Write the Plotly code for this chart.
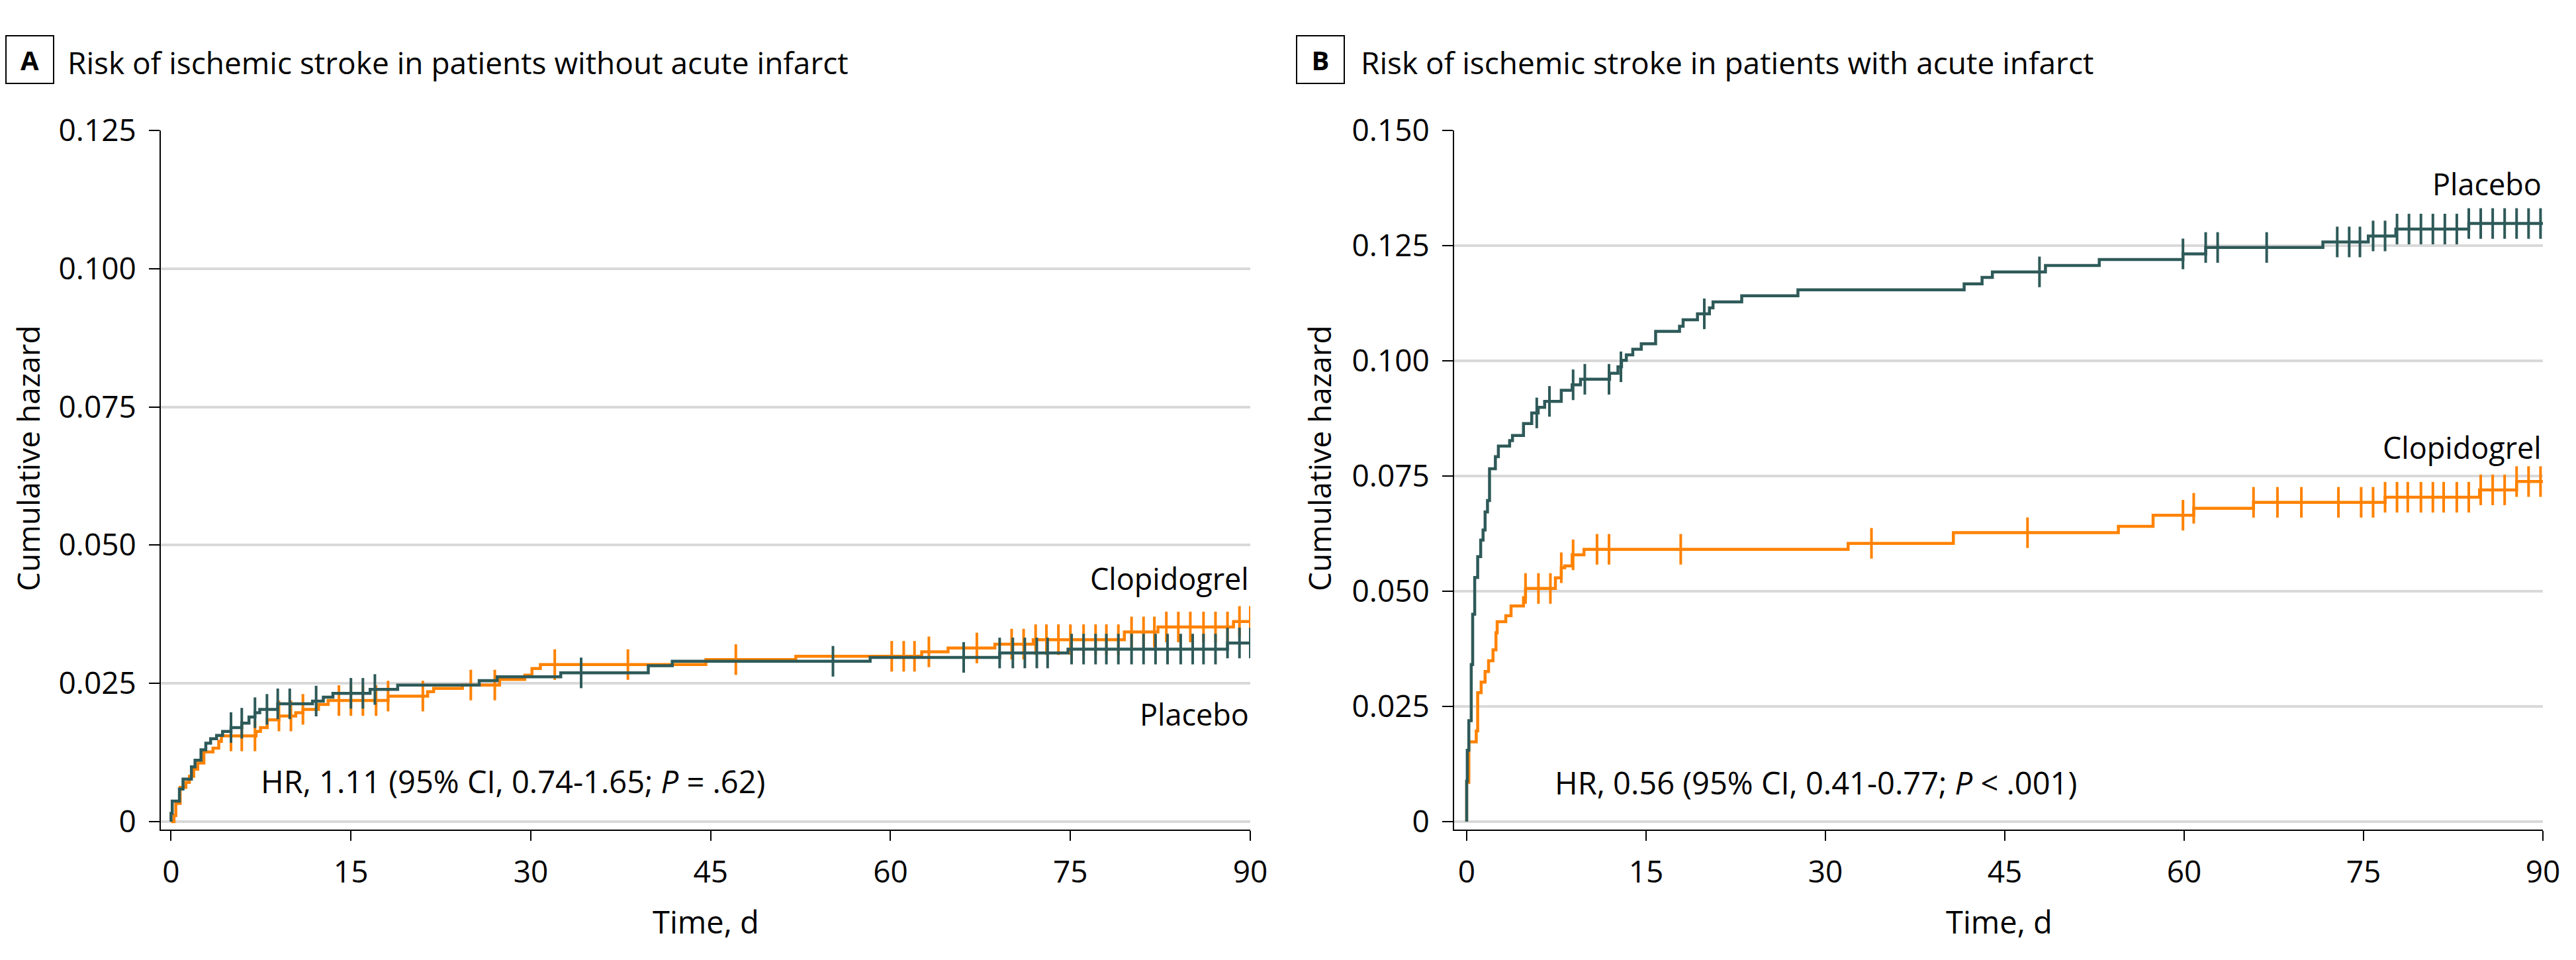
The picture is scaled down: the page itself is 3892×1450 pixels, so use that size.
import numpy as np
import plotly.graph_objects as go

W, H = 3892, 1450
OFF = 8  # page body margin offset

# ---------------- Data ----------------
# Panel A: patients without acute infarct (event times, cumulative hazard after event)
a_plac_t = [0, 0.1, 0.7, 1.0, 1.7, 2.0, 2.5, 2.9, 3.3, 3.8, 4.3, 5.0, 5.9, 6.5, 7.0, 7.4, 8.9,
            11.8, 12.7, 13.5, 16.6, 18.9, 25.7, 27.2, 32.5, 39.8, 41.8, 58.3, 69.1, 74.8, 88.1]
a_plac_h = [0.0015, 0.0037, 0.0059, 0.0077, 0.0099, 0.0111, 0.0130, 0.0142, 0.0150, 0.0156, 0.0163,
            0.0170, 0.0178, 0.0189, 0.0197, 0.0203, 0.0213, 0.0218, 0.0225, 0.0232, 0.0239, 0.0247,
            0.0255, 0.0262, 0.0269, 0.0282, 0.0290, 0.0297, 0.0305, 0.0312, 0.0323]
a_plac_cens = [5.0, 5.9, 7.0, 8.0, 8.9, 9.9, 12.1, 15.0, 16.0, 17.0, 34.2, 55.2, 66.1, 69.1, 70.2,
               71.2, 72.2, 73.1, 75.1, 76.1, 77.1, 78.0, 79.0, 80.1, 81.1, 82.1, 83.1, 84.2, 85.2,
               86.1, 87.1, 88.1, 89.1, 90.0]

a_clop_t = [0.25, 0.4, 0.76, 1.24, 1.53, 1.89, 2.23, 2.74, 3.5, 3.98, 4.2, 7.09, 7.46, 8.02, 9.0,
            10.4, 11.0, 12.3, 13.1, 18.1, 21.4, 21.9, 24.3, 27.4, 29.5, 30.1, 30.8, 44.6, 52.1,
            62.6, 64.8, 68.7, 71.9, 79.5, 82.3, 88.6]
a_clop_h = [0.0011, 0.0033, 0.0062, 0.0071, 0.0082, 0.0095, 0.0106, 0.0126, 0.0133, 0.0145, 0.0155,
            0.0163, 0.0170, 0.0184, 0.0191, 0.0197, 0.0203, 0.0212, 0.0219, 0.0227, 0.0235, 0.0241,
            0.0247, 0.0257, 0.0265, 0.0277, 0.0284, 0.0293, 0.0299, 0.0307, 0.0314, 0.0321, 0.0329,
            0.0343, 0.0352, 0.0362]
a_clop_cens = [5.0, 5.9, 7.0, 9.0, 10.0, 11.0, 14.0, 15.0, 16.0, 17.1, 18.1, 21.0, 25.0, 27.0, 32.0,
               38.1, 47.1, 60.1, 61.1, 62.0, 63.2, 67.2, 70.1, 71.1, 72.1, 73.0, 74.0, 75.0, 76.1,
               77.1, 78.0, 79.0, 80.1, 81.1, 82.0, 83.0, 84.0, 85.0, 86.1, 87.1, 88.1, 89.1, 90.0]

# Panel B: patients with acute infarct
b_plac_t = [0, 0.05, 0.18, 0.38, 0.5, 0.67, 0.92, 1.17, 1.37, 1.54, 1.74, 1.91, 2.4, 2.65, 3.59,
            3.83, 4.75, 5.44, 5.98, 6.52, 7.91, 8.82, 9.52, 11.95, 12.65, 12.95, 13.35, 13.89, 14.6,
            15.8, 17.8, 18.1, 19.3, 20.3, 20.6, 23.0, 27.7, 41.6, 43.1, 43.96, 48.4, 52.9, 59.9,
            61.8, 71.6, 75.4, 77.7, 83.8]
b_plac_h = [0.0088, 0.0155, 0.0219, 0.0341, 0.0450, 0.0530, 0.0575, 0.0611, 0.0633, 0.0672, 0.0697,
            0.0766, 0.0792, 0.0815, 0.0827, 0.0838, 0.0864, 0.0887, 0.0899, 0.0912, 0.0936, 0.0948,
            0.0960, 0.0973, 0.0987, 0.1001, 0.1013, 0.1025, 0.1037, 0.1064, 0.1075, 0.1089, 0.1102,
            0.1115, 0.1128, 0.1141, 0.1154, 0.1167, 0.1181, 0.1193, 0.1207, 0.1220, 0.1232, 0.1246,
            0.1258, 0.1271, 0.1286, 0.1298]
b_plac_cens = [5.86, 6.92, 8.9, 9.88, 11.9, 12.9, 19.87, 47.9, 59.9, 61.8, 62.8, 66.9, 72.8, 73.8,
               74.7, 75.8, 76.8, 77.8, 78.8, 79.8, 80.8, 81.8, 82.8, 83.8, 84.8, 85.8, 86.8, 87.8,
               88.8, 89.8]

b_clop_t = [0, 0.18, 0.8, 0.92, 1.21, 1.54, 1.83, 2.2, 2.45, 2.55, 3.27, 3.71, 4.75, 4.92, 7.42,
            7.91, 8.2, 8.82, 9.81, 31.9, 40.7, 54.5, 57.4, 60.8, 65.8, 76.8, 84.7, 87.8]
b_clop_h = [0.0085, 0.0173, 0.0197, 0.0280, 0.0303, 0.0326, 0.0349, 0.0373, 0.0410, 0.0434, 0.0447,
            0.0468, 0.0486, 0.0506, 0.0529, 0.0551, 0.0555, 0.0579, 0.0591, 0.0604, 0.0627, 0.0641,
            0.0665, 0.0680, 0.0693, 0.0704, 0.0720, 0.0738]
b_clop_cens = [4.92, 6.0, 7.0, 7.91, 8.9, 10.9, 11.9, 17.9, 33.85, 46.9, 59.9, 60.8, 65.8, 67.8,
               69.8, 72.9, 74.8, 75.8, 76.8, 77.8, 78.7, 79.8, 80.8, 81.7, 82.8, 83.8, 84.8, 85.8,
               86.8, 87.8, 88.8, 89.8]

x_ticks = [0, 15, 30, 45, 60, 75, 90]
y_ticks_a = [0, 0.025, 0.05, 0.075, 0.1, 0.125]
y_ticklabels_a = ["0", "0.025", "0.050", "0.075", "0.100", "0.125"]
y_ticks_b = [0, 0.025, 0.05, 0.075, 0.1, 0.125, 0.15]
y_ticklabels_b = ["0", "0.025", "0.050", "0.075", "0.100", "0.125", "0.150"]

TEAL = "#2E5A59"
ORANGE = "#FF8200"
FONT = "Open Sans"
X_END = 90


def step_xy(t, h):
    x = [0] + list(t) + [X_END]
    y = [0] + list(h) + [h[-1]]
    return x, y


def at(t, h, c):
    idx = np.searchsorted(np.array(t), np.array(c), side="right") - 1
    hh = np.array(h)
    return np.where(idx >= 0, hh[np.clip(idx, 0, None)], 0.0)


def px(x):
    return (x - OFF) / W


def py(y):
    return 1 - (y - OFF) / H


fig = go.Figure()

panels = [
    ("x", "y", [(a_clop_t, a_clop_h, a_clop_cens, ORANGE, "Clopidogrel"),
                (a_plac_t, a_plac_h, a_plac_cens, TEAL, "Placebo")]),
    ("x2", "y2", [(b_clop_t, b_clop_h, b_clop_cens, ORANGE, "Clopidogrel"),
                  (b_plac_t, b_plac_h, b_plac_cens, TEAL, "Placebo")]),
]
for xa, ya, series in panels:
    for t, h, cens, col, name in series:
        sx, sy = step_xy(t, h)
        fig.add_trace(go.Scatter(x=sx, y=sy, mode="lines", line=dict(color=col, width=4.5, shape="hv"),
                                 xaxis=xa, yaxis=ya, name=name, showlegend=False, hoverinfo="skip"))
        fig.add_trace(go.Scatter(x=cens, y=at(t, h, cens), mode="markers",
                                 marker=dict(symbol="line-ns", size=33, line=dict(color=col, width=4)),
                                 xaxis=xa, yaxis=ya, showlegend=False, hoverinfo="skip"))

tickfont = dict(family=FONT, size=46, color="black")
common_x = dict(range=[-0.85, 90], tickvals=x_ticks, showgrid=False, zeroline=False, showline=True,
                linecolor="black", linewidth=2, ticks="outside", ticklen=15, tickwidth=2,
                tickcolor="black", tickfont=tickfont, ticklabelstandoff=8, automargin=False)
common_y = dict(showgrid=True, gridcolor="#D9D9D9", gridwidth=4, zeroline=False, showline=True,
                linecolor="black", linewidth=2, ticks="outside", ticklen=16, tickwidth=2,
                tickcolor="black", tickfont=tickfont, ticklabelstandoff=10, automargin=False)

fig.update_layout(
    width=W, height=H, autosize=False,
    margin=dict(l=0, r=0, t=0, b=0, autoexpand=False),
    paper_bgcolor="white", plot_bgcolor="white",
    showlegend=False,
    font=dict(family=FONT, color="black"),
    xaxis=dict(domain=[px(243), px(1889)], anchor="y", **common_x),
    yaxis=dict(domain=[py(1253), py(197)], anchor="x", range=[-0.00144, 0.125],
               tickvals=y_ticks_a, ticktext=y_ticklabels_a, **common_y),
    xaxis2=dict(domain=[px(2197), px(3842)], anchor="y2", **{**common_x, "range": [-1.05, 90]}),
    yaxis2=dict(domain=[py(1253), py(197)], anchor="x2", range=[-0.00172, 0.150],
                tickvals=y_ticks_b, ticktext=y_ticklabels_b, **common_y),
)

ann = []
# Panel letters and titles
for letter, bx, tx, title in [("A", 8, 100, "Risk of ischemic stroke in patients without acute infarct"),
                              ("B", 1958, 2054, "Risk of ischemic stroke in patients with acute infarct")]:
    ann.append(dict(text=f"<b>{letter}</b>", x=px(bx), y=py(90), xref="paper", yref="paper",
                    xanchor="left", yanchor="middle", showarrow=False, width=70, height=70,
                    bordercolor="black", borderwidth=2, borderpad=0, align="center",
                    font=dict(family=FONT, size=40, color="black")))
    ann.append(dict(text=title, x=px(tx), y=py(94), xref="paper", yref="paper", xanchor="left",
                    yanchor="middle", showarrow=False, font=dict(family=FONT, size=46, color="black")))

# Axis titles
for cx in (42, 1993):
    ann.append(dict(text="Cumulative hazard", x=px(cx), y=py(692), xref="paper", yref="paper",
                    textangle=-90, showarrow=False, xanchor="center", yanchor="middle",
                    font=dict(family=FONT, size=46, color="black")))
for cx in (1066, 3020):
    ann.append(dict(text="Time, d", x=px(cx), y=py(1392), xref="paper", yref="paper",
                    showarrow=False, xanchor="center", yanchor="middle",
                    font=dict(family=FONT, size=47, color="black")))

# HR text
ann.append(dict(text="HR, 1.11 (95% CI, 0.74-1.65; <i>P</i> = .62)", x=px(392), y=py(1180),
                xref="paper", yref="paper", xanchor="left", yanchor="middle", showarrow=False,
                font=dict(family=FONT, size=47, color="black")))
ann.append(dict(text="HR, 0.56 (95% CI, 0.41-0.77; <i>P</i> &lt; .001)", x=px(2347), y=py(1182),
                xref="paper", yref="paper", xanchor="left", yanchor="middle", showarrow=False,
                font=dict(family=FONT, size=47, color="black")))

# Series labels
for xr, yr, text, yv in [("x", "y", "Clopidogrel", 0.0440), ("x", "y", "Placebo", 0.0195),
                         ("x2", "y2", "Placebo", 0.1385), ("x2", "y2", "Clopidogrel", 0.0813)]:
    ann.append(dict(text=text, x=90, y=yv, xref=xr, yref=yr, xanchor="right", yanchor="middle",
                    showarrow=False, font=dict(family=FONT, size=45, color="black")))

fig.update_layout(annotations=ann)
fig.write_html("out.html")
